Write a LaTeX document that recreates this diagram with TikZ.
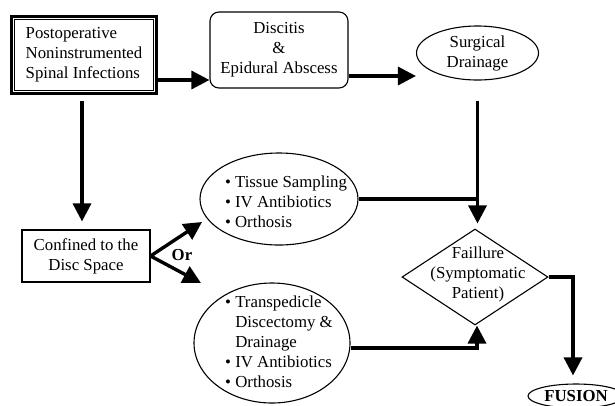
\documentclass[tikz,border=0pt]{standalone}
\usepackage{fontspec}
\setmainfont{Liberation Serif}
\usetikzlibrary{shapes.geometric,arrows.meta}
\begin{document}
\begin{tikzpicture}[x=1bp,y=-1bp,
  every node/.style={font=\fontsize{16.8bp}{20bp}\selectfont, inner sep=0pt},
  box/.style={draw, line width=1.1bp},
  ell/.style={draw, ellipse, line width=1.1bp},
  arr/.style={line width=3.4bp, -{Triangle[length=18bp,width=18bp]}},
  conn/.style={line width=3.4bp},
]
\useasboundingbox (0,0) rectangle (615,405);
\clip (0,0) rectangle (615,405);

% nodes
\node[draw, line width=3.5bp, minimum width=145bp, minimum height=77bp, align=left] (post) at (84,55)
  {Postoperative\\Noninstrumented\\Spinal Infections};
\draw[line width=1.4bp] ([shift={(4.5bp,-4.5bp)}]post.north west) rectangle ([shift={(-4.5bp,4.5bp)}]post.south east);

\node[box, rounded corners=9bp, minimum width=138bp, minimum height=76bp, align=center] (disc) at (279,50)
  {Discitis\\\&\\Epidural Abscess};

\node[ell, minimum width=122bp, minimum height=54bp, align=center] (surg) at (477.5,53)
  {Surgical\\Drainage};

\node[box, minimum width=128bp, minimum height=52bp, align=center] (conf) at (86,256)
  {Confined to the\\Disc Space};

\node[ell, minimum width=158bp, minimum height=92bp,
  label={[xshift=7bp,yshift=-4bp]center:{\begin{tabular}{@{}l@{\ }l@{}}
  •&Tissue Sampling\\ •&IV Antibiotics\\ •&Orthosis\end{tabular}}}] (tiss) at (279,199) {};

\node[ell, minimum width=156bp, minimum height=120bp,
  label={[xshift=7bp,yshift=0bp]center:{\begin{tabular}{@{}l@{\ }l@{}}
  •&Transpedicle\\ &Discectomy \&\\ &Drainage\\ •&IV Antibiotics\\ •&Orthosis\end{tabular}}}] (trans) at (272,343) {};

\node[draw, diamond, line width=1.1bp, minimum width=146bp, minimum height=96bp,
  label={[align=center,xshift=3bp,yshift=3bp]center:{Faillure\\(Symptomatic\\Patient)}}] (fail) at (475,277) {};

\node[ell, minimum width=96bp, minimum height=24bp, font=\fontsize{16.8bp}{20bp}\selectfont\bfseries] (fusion) at (576,396) {FUSION};

\node[font=\fontsize{16.8bp}{20bp}\selectfont\bfseries] (orlbl) at (182,255) {Or};

\coordinate (orup) at (202,222);
\coordinate (orlow) at (201,283);

% connectors
\draw[arr] ([yshift=-25bp]post.east) -- ([yshift=-25bp]post.east -| disc.west);
\draw[arr] ([yshift=-26bp]disc.east) -- ([yshift=-26bp]disc.east -| surg.west);
\draw[arr, shorten <=20bp, shorten >=5bp] (surg.south) -- (surg.south |- fail.north);
\draw[conn] (tiss.east) -- (tiss.east -| surg.south);
\draw[arr, shorten <=6bp, shorten >=8bp] ([xshift=-2bp]post.south) -- ([xshift=-2bp]post.south |- conf.north);
\draw[arr] (conf.east) -- (orup);
\draw[arr] (conf.east) -- (orlow);
\draw[arr] ([yshift=-5bp]trans.east) -| ([xshift=2bp]fail.south);
\draw[arr, shorten >=8bp] (fail.east) -| ([xshift=-3bp]fusion.north);
\end{tikzpicture}
\end{document}
